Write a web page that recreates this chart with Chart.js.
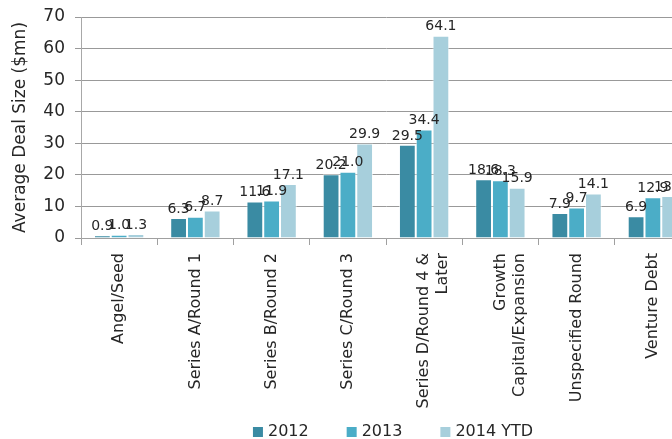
<!DOCTYPE html>
<html lang="en">
<head>
  <meta charset="UTF-8" />
  <title>Average Deal Size by Round</title>
  <script src="https://cdn.jsdelivr.net/npm/chart.js"></script>
  <style>
    html, body {
      margin: 0;
      padding: 0;
      background: #fff;
      overflow: hidden;
    }
    #wrap {
      width: 700px;
      height: 439px;
    }
  </style>
</head>
<body>
  <div id="wrap">
    <canvas id="dealChart" width="700" height="439"></canvas>
  </div>

  <script>
    const rounds = [
      "Angel/Seed",
      "Series A/Round 1",
      "Series B/Round 2",
      "Series C/Round 3",
      ["Series D/Round 4 &", "Later"],
      ["Growth", "Capital/Expansion"],
      "Unspecified Round",
      "Venture Debt"
    ];
    const deals2012 = [0.9, 6.3, 11.6, 20.2, 29.5, 18.6, 7.9, 6.9];
    const deals2013 = [1.0, 6.7, 11.9, 21.0, 34.4, 18.3, 9.7, 12.9];
    const deals2014 = [1.3, 8.7, 17.1, 29.9, 64.1, 15.9, 14.1, 13.3];
    const yTicks = [0, 10, 20, 30, 40, 50, 60, 70];

    const FONT = "'DejaVu Sans', sans-serif";
    const TEXT = "#262626";

    // draws the value above every bar, like excel's outside-end labels
    const valueLabels = {
      id: "valueLabels",
      afterDatasetsDraw(chart) {
        const ctx = chart.ctx;
        ctx.save();
        ctx.font = "14px " + FONT;
        ctx.fillStyle = TEXT;
        ctx.textAlign = "center";
        ctx.textBaseline = "bottom";
        chart.data.datasets.forEach((ds, i) => {
          chart.getDatasetMeta(i).data.forEach((bar, j) => {
            ctx.fillText(ds.data[j].toFixed(1), bar.x, bar.y - 2);
          });
        });
        ctx.restore();
      }
    };

    // excel puts the legend a bit right of centre, so draw it by hand
    const bottomLegend = {
      id: "bottomLegend",
      afterDraw(chart) {
        const ctx = chart.ctx;
        const gap = 38, box = 10, y = 432;
        ctx.save();
        ctx.font = "16px " + FONT;
        ctx.textBaseline = "middle";
        const items = chart.data.datasets.map(ds => ({
          text: ds.label,
          color: ds.backgroundColor,
          w: box + 5 + ctx.measureText(ds.label).width
        }));
        const total = items.reduce((s, it) => s + it.w, 0) + gap * (items.length - 1);
        let x = 393 - total / 2;
        items.forEach(it => {
          ctx.fillStyle = it.color;
          ctx.fillRect(x, y - box / 2, box, box);
          ctx.fillStyle = TEXT;
          ctx.fillText(it.text, x + box + 5, y);
          x += it.w + gap;
        });
        ctx.restore();
      }
    };

    const dealChart = new Chart(document.getElementById("dealChart"), {
      type: "bar",
      data: {
        labels: rounds,
        datasets: [
          { label: "2012", data: deals2012, backgroundColor: "#3a8ba3" },
          { label: "2013", data: deals2013, backgroundColor: "#4badc7" },
          { label: "2014 YTD", data: deals2014, backgroundColor: "#a7cfdc" }
        ]
      },
      options: {
        responsive: false,
        animation: false,
        layout: { padding: { top: 17, right: 9, left: 8, bottom: 0 } },
        datasets: {
          bar: {
            categoryPercentage: 0.66,
            barPercentage: 1.0,
            borderColor: "rgba(255,255,255,0.6)",
            borderWidth: 1
          }
        },
        plugins: {
          legend: { display: false },
          tooltip: { enabled: false }
        },
        scales: {
          x: {
            grid: {
              display: true,
              drawOnChartArea: false,
              color: "#a0a0a0",
              tickLength: 7,
              offset: true
            },
            border: { color: "#a0a0a0" },
            ticks: {
              minRotation: 90,
              maxRotation: 90,
              color: TEXT,
              font: { family: FONT, size: 16 },
              padding: 8
            },
            afterFit(scale) {
              scale.height = 201;
            }
          },
          y: {
            min: 0,
            max: 70,
            afterBuildTicks(scale) {
              scale.ticks = yTicks.map(v => ({ value: v }));
            },
            afterFit(scale) {
              scale.width = 73;
              scale.paddingTop = 0;
              scale.paddingBottom = 0;
            },
            grid: { color: "#999999", tickLength: 6 },
            border: { color: "#a8a8a8" },
            ticks: {
              color: TEXT,
              font: { family: FONT, size: 17 },
              padding: 10
            },
            title: {
              display: true,
              text: "Average Deal Size ($mn)",
              color: TEXT,
              font: { family: FONT, size: 17 },
              padding: 2
            }
          }
        }
      },
      plugins: [valueLabels, bottomLegend]
    });
  </script>
</body>
</html>
